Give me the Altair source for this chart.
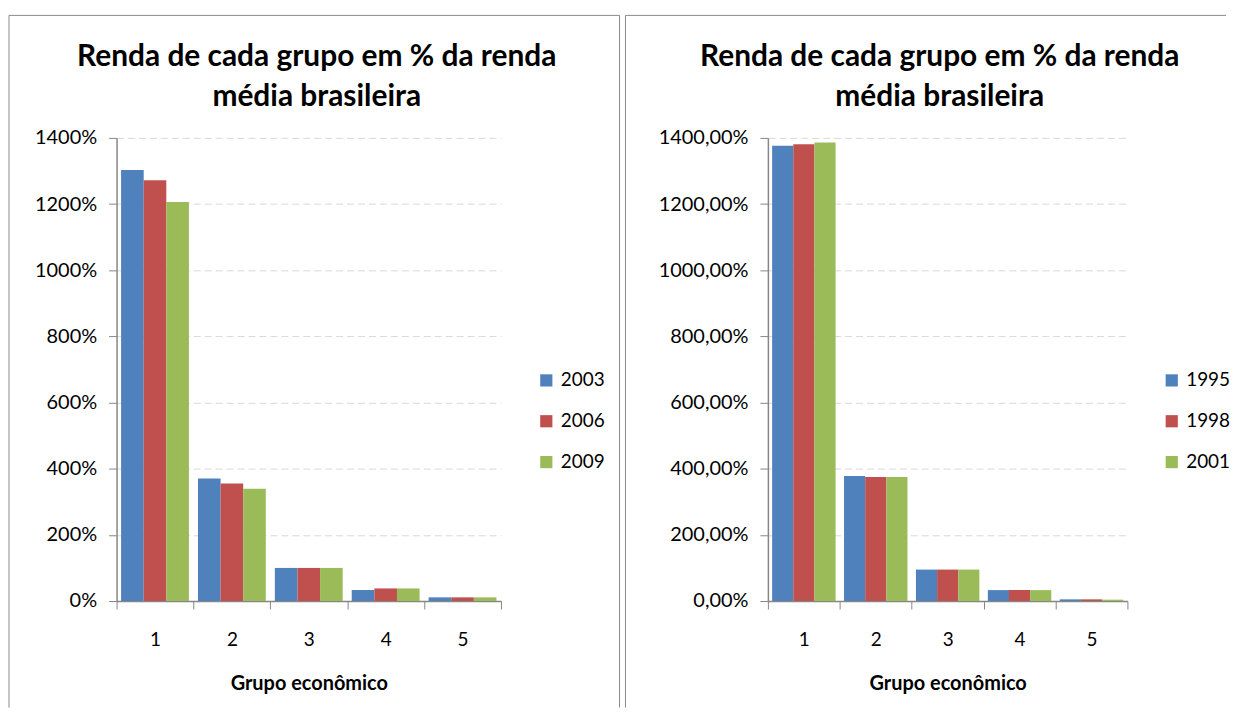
import altair as alt
import pandas as pd

groups = [1, 2, 3, 4, 5]

left_years = ["2003", "2006", "2009"]
left_2003 = [1303, 370, 100, 33, 11]
left_2006 = [1272, 355, 100, 38, 11]
left_2009 = [1206, 339, 100, 38, 11]

right_years = ["1995", "1998", "2001"]
right_1995 = [1376, 378, 95, 33, 5]
right_1998 = [1381, 375, 95, 33, 5]
right_2001 = [1386, 375, 95, 33, 4]

y_ticks = [0, 200, 400, 600, 800, 1000, 1200, 1400]
title_line1 = "Renda de cada grupo em % da renda"
title_line2 = "média brasileira"
x_title = "Grupo econômico"
colors = ["#4F81BD", "#C0504D", "#9BBB59"]

FONT = "Lato"
BORDER = "#8a8a8a"


def make_df(years, series):
    rows = []
    for yr, vals in zip(years, series):
        for g, v in zip(groups, vals):
            rows.append({"grupo": g, "ano": yr, "valor": v})
    return pd.DataFrame(rows)


def panel(df, years, label_expr, w, h, legend_x, title_dx, bx0, bx1, by0, by1, draw_right):
    bars = alt.Chart(df).mark_bar().encode(
        x=alt.X(
            "grupo:O",
            title=x_title,
            scale=alt.Scale(paddingInner=0, paddingOuter=0),
            axis=alt.Axis(
                labelAngle=0, tickBand="extent", grid=False, tickSize=8,
                labelPadding=22, titlePadding=24, labelFontSize=19,
                titleFontSize=20, titleFontWeight="bold",
            ),
        ),
        xOffset=alt.XOffset("ano:N", sort=years,
                            scale=alt.Scale(domain=years, paddingOuter=0.2, paddingInner=0)),
        y=alt.Y(
            "valor:Q",
            title=None,
            scale=alt.Scale(domain=[0, 1400], nice=False),
            axis=alt.Axis(
                values=y_ticks, labelExpr=label_expr, grid=True,
                gridDash=[7, 4], gridColor="#d9d9d9", tickSize=8,
                labelPadding=12, labelFontSize=20,
            ),
        ),
        color=alt.Color(
            "ano:N",
            sort=years,
            scale=alt.Scale(domain=years, range=colors),
            legend=alt.Legend(
                title=None, orient="none", legendX=legend_x, legendY=234,
                symbolType="square", symbolSize=150, symbolStrokeWidth=0,
                labelFontSize=19, rowPadding=21, padding=0, labelOffset=5,
            ),
        ),
    ).properties(width=w, height=h)

    one = pd.DataFrame({"k": [0]})
    layers = [bars]
    layers.append(alt.Chart(one).mark_text(
        font=FONT, fontSize=30, fontWeight="bold", color="black",
        align="center", baseline="middle").encode(
        x=alt.value(w / 2 + title_dx), y=alt.value(-81), text=alt.value(title_line1)))
    layers.append(alt.Chart(one).mark_text(
        font=FONT, fontSize=30, fontWeight="bold", color="black",
        align="center", baseline="middle").encode(
        x=alt.value(w / 2 + title_dx), y=alt.value(-41), text=alt.value(title_line2)))
    layers.append(alt.Chart(one).mark_rule(color=BORDER, strokeWidth=1).encode(
        x=alt.value(bx0), y=alt.value(by0), y2=alt.value(by1)))
    layers.append(alt.Chart(one).mark_rule(color=BORDER, strokeWidth=1).encode(
        x=alt.value(bx0), x2=alt.value(bx1), y=alt.value(by0)))
    if draw_right:
        layers.append(alt.Chart(one).mark_rule(color=BORDER, strokeWidth=1).encode(
            x=alt.value(bx1), y=alt.value(by0), y2=alt.value(by1)))
    return alt.layer(*layers)


left_df = make_df(left_years, [left_2003, left_2006, left_2009])
right_df = make_df(right_years, [right_1995, right_1998, right_2001])

left = panel(left_df, left_years, "datum.value + '%'", 386, 465, 422, 8,
             -108, 505, -123, 572, True)
right = panel(right_df, right_years,
              "replace(format(datum.value, '.2f'), '.', ',') + '%'",
              361, 465, 396, -8, -143, 460, -123, 572, False)

chart = alt.hconcat(left, right, spacing=4).resolve_scale(
    color="independent", xOffset="independent", x="independent", y="independent"
).configure(
    padding={"left": 0, "top": 5, "right": 0, "bottom": 0},
    background="white",
    font=FONT,
).configure_view(
    stroke=None
).configure_axis(
    domainColor="#868686", tickColor="#868686", labelColor="black",
    titleColor="black", labelFont=FONT, titleFont=FONT, domainWidth=1.5,
).configure_legend(
    labelFont=FONT, labelColor="black",
)

chart.save("out.html", embed_options={"renderer": "svg", "actions": False})
